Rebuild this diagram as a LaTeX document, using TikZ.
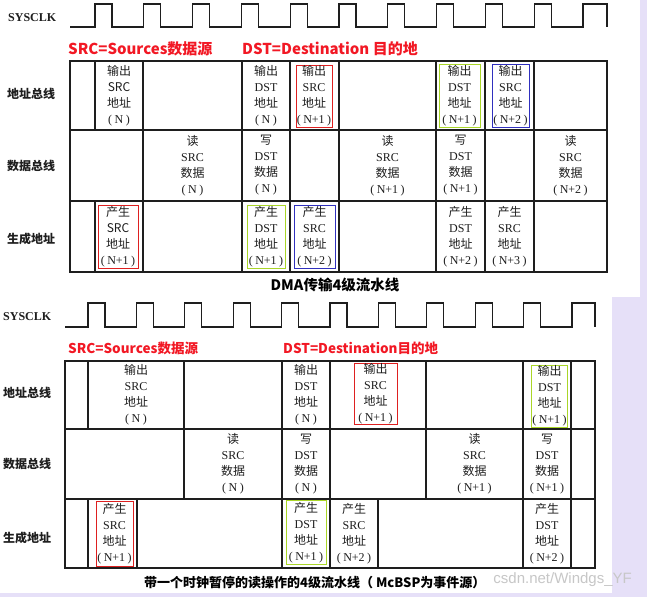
\documentclass[tikz,border=0pt]{standalone}
\usepackage{fontspec}
\setmainfont{Liberation Serif}
\newfontfamily\cjk{Noto Sans CJK SC}
\newfontfamily\wmfont{Liberation Sans}
\definecolor{lav}{RGB}{230,224,248}
\definecolor{redt}{RGB}{242,24,36}
\definecolor{boxred}{RGB}{222,32,32}
\definecolor{boxgreen}{RGB}{170,214,40}
\definecolor{boxblue}{RGB}{48,48,190}
\definecolor{ink}{RGB}{30,30,30}
\newcommand\zh[1]{{\cjk #1}}
\newcommand\pn[1]{(\kern2.5pt#1\kern2.5pt)}
\newcommand\cellt[4]{\zh{#1}\\#2\\\zh{#3}\\\pn{#4}}
\tikzset{
  cell/.style={align=center,font=\fontsize{12}{16}\selectfont,text=ink,inner sep=0pt},
  fr/.style={cell,draw=#1,line width=0.9pt},
  gridl/.style={line width=1.1pt,draw=ink},
  outerl/.style={line width=1.5pt,draw=ink},
  clk/.style={line width=1.2pt,draw=ink},
  rowlab/.style={font=\fontsize{12}{14}\selectfont\cjk\bfseries,text=ink,anchor=west,inner sep=0pt},
  clklab/.style={font=\fontsize{12}{14}\selectfont\bfseries,text=ink,anchor=west,inner sep=0pt},
  redlab/.style={font=\cjk\bfseries,text=redt,anchor=west,inner sep=0pt},
  capt/.style={font=\cjk\bfseries,text=black,inner sep=1pt},
  wm/.style={font=\wmfont\fontsize{15}{17}\selectfont,text=black!22,inner sep=0pt}
}
\begin{document}
\begin{tikzpicture}[x=1pt,y=-1pt]
\useasboundingbox (0,0) rectangle (647,597);
\fill[white] (0,0) rectangle (647,597);
\fill[lav] (640,0) rectangle (647,297);
\fill[lav] (612,297) rectangle (647,597);
\fill[lav] (0,593) rectangle (647,597);

% ================= TOP DIAGRAM =================
\node[clklab] (clkA) at (8,18) {SYSCLK};
\draw[clk] (70,27) foreach \k in {0,...,9} { -- ({95+48.8*\k},27) -- ({95+48.8*\k},4) -- ({112+48.8*\k},4) -- ({112+48.8*\k},27) }
  -- (583,27) -- (583,4) -- (607,4) -- (607,27);

\node[redlab,font=\fontsize{15}{17}\selectfont\cjk\bfseries] (srcA) at (68,49) {SRC=Sources数据源};
\node[redlab,font=\fontsize{15}{17}\selectfont\cjk\bfseries] (dstA) at (242,49) {DST=Destination 目的地};

\node[rowlab] (rA1) at (7,94) {地址总线};
\node[rowlab] (rA2) at (7,166) {数据总线};
\node[rowlab] (rA3) at (7,239) {生成地址};

% grid
\draw[outerl] (70,61) rectangle (607,272);
\draw[gridl] (70,130) -- (607,130) (70,201) -- (607,201);
\foreach \x in {143,242,290,339,436,485,534} \draw[gridl] (\x,61) -- (\x,272);
\draw[gridl] (95,61) -- (95,130) (95,201) -- (95,272);

% row 1
\node[cell] (a11) at (119,95.5) {\cellt{输出}{\zh{SRC}}{地址}{N}};
\node[cell] (a12) at (266,95.5) {\cellt{输出}{DST}{地址}{N}};
\node[fr=boxred,minimum width=36pt,minimum height=62pt] (a13) at (314,96) {\cellt{输出}{SRC}{地址}{N+1}};
\node[fr=boxgreen,minimum width=41pt,minimum height=63pt] (a14) at (459.5,95.5) {\cellt{输出}{DST}{地址}{N+1}};
\node[fr=boxblue,minimum width=37pt,minimum height=63pt] (a15) at (510.5,95.5) {\cellt{输出}{SRC}{地址}{N+2}};
% row 2
\node[cell] (a21) at (192.5,165.5) {\cellt{读}{SRC}{数据}{N}};
\node[cell] (a22) at (266,165.5) {\cellt{写}{DST}{数据}{N}};
\node[cell] (a23) at (387.5,165.5) {\cellt{读}{SRC}{数据}{N+1}};
\node[cell] (a24) at (460.5,165.5) {\cellt{写}{DST}{数据}{N+1}};
\node[cell] (a25) at (570.5,165.5) {\cellt{读}{SRC}{数据}{N+2}};
% row 3
\node[fr=boxred,minimum width=40pt,minimum height=63pt] (a31) at (118,236.5) {\cellt{产生}{\zh{SRC}}{地址}{N+1}};
\node[fr=boxgreen,minimum width=38pt,minimum height=63pt] (a32) at (266,236.5) {\cellt{产生}{DST}{地址}{N+1}};
\node[fr=boxblue,minimum width=41pt,minimum height=63pt] (a33) at (314.5,236.5) {\cellt{产生}{SRC}{地址}{N+2}};
\node[cell] (a34) at (460.5,236.5) {\cellt{产生}{DST}{地址}{N+2}};
\node[cell] (a35) at (509.5,236.5) {\cellt{产生}{SRC}{地址}{N+3}};

\node[capt,font=\fontsize{14.5}{16}\selectfont\cjk\bfseries] (capA) at (335,285) {DMA传输4级流水线};

% ================= BOTTOM DIAGRAM =================
\node[clklab] (clkB) at (3,317) {SYSCLK};
\draw[clk] (65,327) foreach \k in {0,...,9} { -- ({88+48.4*\k},327) -- ({88+48.4*\k},303) -- ({105+48.4*\k},303) -- ({105+48.4*\k},327) }
  -- (572,327) -- (572,303) -- (595,303) -- (595,327);

\node[redlab,font=\fontsize{13.5}{16}\selectfont\cjk\bfseries] (srcB) at (68,348) {SRC=Sources数据源};
\node[redlab,font=\fontsize{13.5}{16}\selectfont\cjk\bfseries] (dstB) at (283,348) {DST=Destination目的地};

\node[rowlab] (rB1) at (3,393) {地址总线};
\node[rowlab] (rB2) at (3,464) {数据总线};
\node[rowlab] (rB3) at (3,538) {生成地址};

\draw[outerl] (65,361) rectangle (595,568);
\draw[gridl] (65,429) -- (595,429) (65,499) -- (595,499);
\foreach \x in {282,330,523,571} \draw[gridl] (\x,361) -- (\x,568);
\draw[gridl] (88,361) -- (88,429) (184,361) -- (184,499) (426,361) -- (426,499);
\draw[gridl] (88,499) -- (88,568) (137,499) -- (137,568) (378,499) -- (378,568);

% row 1
\node[cell] (b11) at (136,395) {\cellt{输出}{SRC}{地址}{N}};
\node[cell] (b12) at (306,395) {\cellt{输出}{DST}{地址}{N}};
\node[fr=boxred,minimum width=43pt,minimum height=60pt] (b13) at (375.5,394) {\cellt{输出}{SRC}{地址}{N+1}};
\node[fr=boxgreen,minimum width=36pt,minimum height=62pt] (b14) at (549.5,396) {\cellt{输出}{DST}{地址}{N+1}};
% row 2
\node[cell] (b21) at (233,464) {\cellt{读}{SRC}{数据}{N}};
\node[cell] (b22) at (306,464) {\cellt{写}{DST}{数据}{N}};
\node[cell] (b23) at (474.5,464) {\cellt{读}{SRC}{数据}{N+1}};
\node[cell] (b24) at (547,464) {\cellt{写}{DST}{数据}{N+1}};
% row 3
\node[fr=boxred,minimum width=37pt,minimum height=65pt] (b31) at (114.5,533.5) {\cellt{产生}{SRC}{地址}{N+1}};
\node[fr=boxgreen,minimum width=40pt,minimum height=64pt] (b32) at (306,532.5) {\cellt{产生}{DST}{地址}{N+1}};
\node[cell] (b33) at (354,533.5) {\cellt{产生}{SRC}{地址}{N+2}};
\node[cell] (b34) at (547,533.5) {\cellt{产生}{DST}{地址}{N+2}};

\node[wm,anchor=east] (wmk) at (632,580) {csdn.net/Windgs\_YF};
\node[capt,font=\fontsize{13}{15}\selectfont\cjk\bfseries,anchor=west] (capB) at (143,583) {带一个时钟暂停的读操作的4级流水线（ McBSP为事件源）};
\end{tikzpicture}
\end{document}
